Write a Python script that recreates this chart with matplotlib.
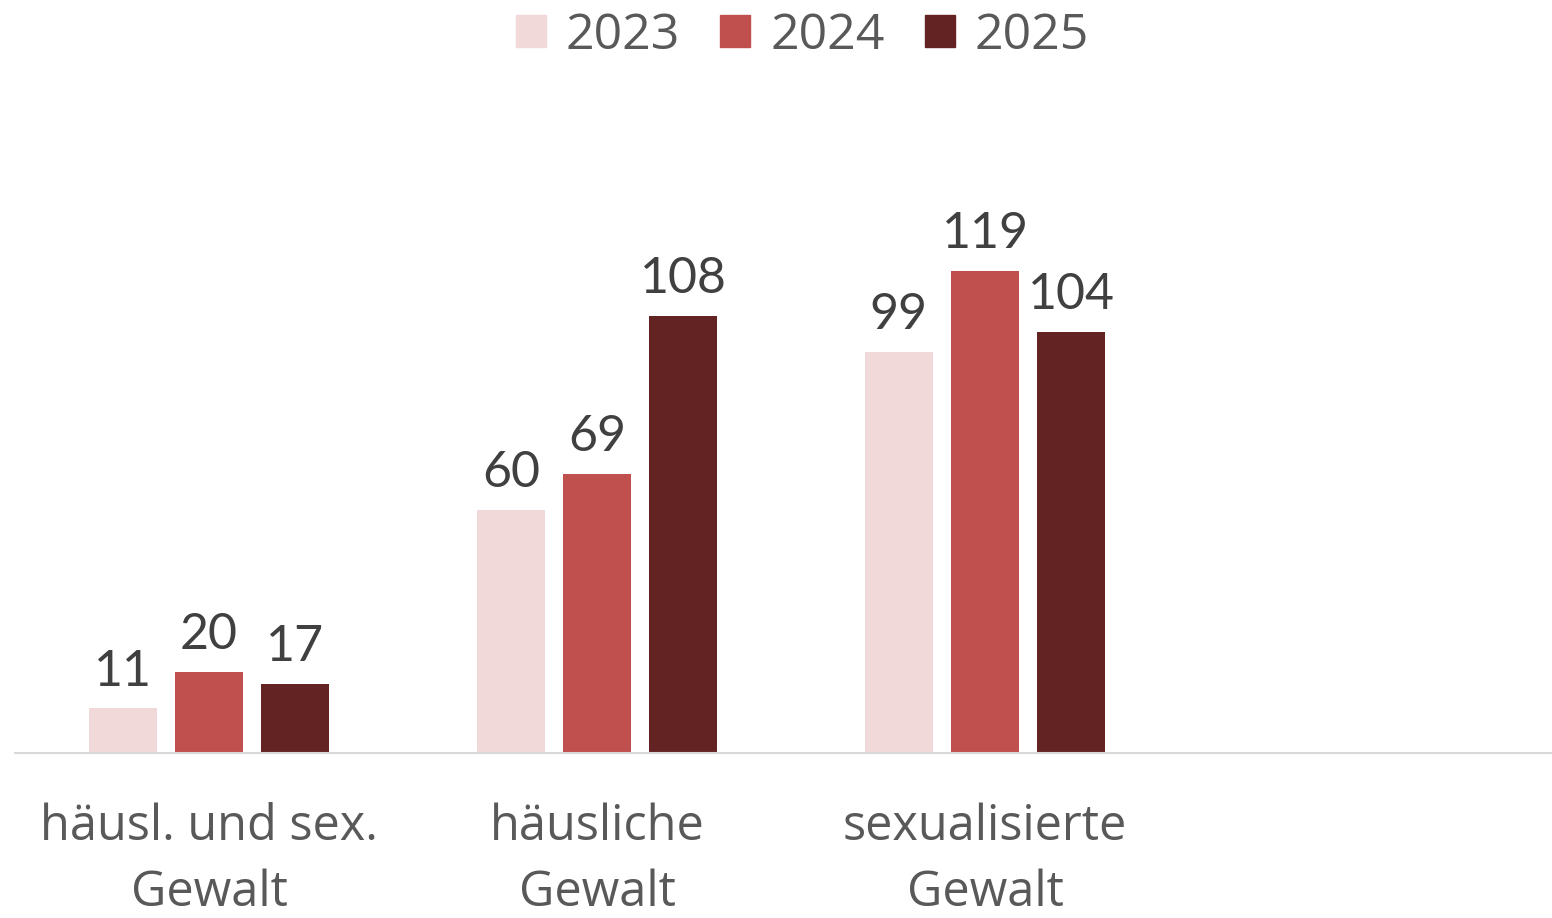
import matplotlib.pyplot as plt
import numpy as np
from matplotlib.patches import Patch

categories = ['häusl. und sex.\nGewalt', 'häusliche\nGewalt', 'sexualisierte\nGewalt', '']
years = ['2023', '2024', '2025']
values_2023 = [11, 60, 99]
values_2024 = [20, 69, 119]
values_2025 = [17, 108, 104]
colors = ['#F2D9D9', '#C0504D', '#632323']

series = [values_2023, values_2024, values_2025]

fig = plt.figure(figsize=(15.52, 9.18), dpi=100)
# slot width 388px, baseline at y=753px; last slot runs past the right edge
ax = fig.add_axes([15 / 1552, 1 - 753 / 918, 1552 / 1552, (753 - 80) / 918])

x = np.arange(len(categories))
width = 0.175
step = 0.222
for i, (vals, col) in enumerate(zip(series, colors)):
    pos = x[:len(vals)] + (i - 1) * step
    bars = ax.bar(pos, vals, width=width, color=col, zorder=2)
    for b, v in zip(bars, vals):
        ax.annotate(str(v), (b.get_x() + b.get_width() / 2, v),
                    xytext=(0, 10), textcoords='offset points',
                    ha='center', va='bottom', fontsize=36,
                    family='Lato', color='#404040')

ax.set_xlim(-0.5, len(categories) - 0.5)
ax.set_ylim(0, 673 / 4.05)
ax.set_yticks([])
ax.set_xticks(x)
ax.set_xticklabels(categories, fontsize=35, family='Open Sans', color='#595959',
                   linespacing=1.42)
ax.tick_params(axis='x', length=0, pad=36)
for s in ['top', 'right', 'left']:
    ax.spines[s].set_visible(False)
ax.spines['bottom'].set_color('#D9D9D9')
ax.spines['bottom'].set_linewidth(1.5)

handles = [Patch(color=c, label=y) for c, y in zip(colors, years)]
fig.legend(handles=handles, loc='upper center', ncol=3, frameon=False,
           bbox_to_anchor=(0.517, 1.037), prop={'family': 'Open Sans', 'size': 36},
           labelcolor='#595959', handlelength=0.6, handleheight=0.6,
           handletextpad=0.4, columnspacing=0.8)

fig.savefig('out.png', dpi=100)
